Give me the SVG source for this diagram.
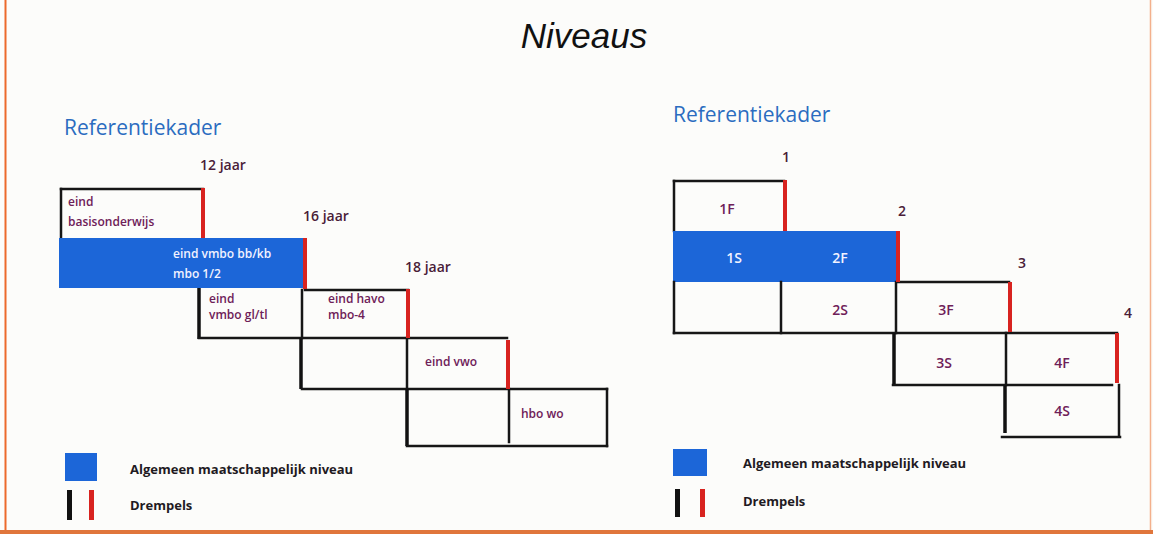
<svg xmlns="http://www.w3.org/2000/svg" width="1153" height="534" viewBox="0 0 1153 534">
<style>
.bg{fill:#fcfcfa}
.blk{stroke:#161616;stroke-width:2.5;fill:none;stroke-linecap:square}
.thk{stroke:#111;stroke-width:3.5;fill:none}
.red{stroke:#d8231f;stroke-width:4;fill:none}
.bar{fill:#1c66d8}
.hdr{font-family:"Open Sans","Liberation Sans",sans-serif;font-size:21px;fill:#2b6cc0}
.age{font-family:"Open Sans","Liberation Sans",sans-serif;font-size:14px;font-weight:600;fill:#4a1d38}
.lbl{font-family:"Open Sans","Liberation Sans",sans-serif;font-size:12px;font-weight:600;fill:#6e2058}
.wl{font-family:"Open Sans","Liberation Sans",sans-serif;font-size:12px;font-weight:600;fill:#f2f2ff}
.big{font-size:14px}
.lg{font-family:"Open Sans","Liberation Sans",sans-serif;font-size:13px;font-weight:700;fill:#1f1a22}
.mid{text-anchor:middle}
</style>
<rect class="bg" x="0" y="0" width="1153" height="534"/>
<line x1="5.5" y1="0" x2="5.5" y2="534" stroke="#ec6a2c" stroke-width="2"/>
<line x1="1150.5" y1="0" x2="1150.5" y2="534" stroke="#f3b08c" stroke-width="1.5"/>
<rect x="0" y="530" width="1153" height="4" fill="#e0763c"/>
<text x="584" y="48" text-anchor="middle" font-family="Liberation Sans, sans-serif" font-style="italic" font-size="35" fill="#111">Niveaus</text>

<g id="left-diagram">
  <text class="hdr" x="64" y="135">Referentiekader</text>
  <g id="l-age12"><text class="age" x="200" y="170">12 jaar</text></g>
  <g id="l-age16"><text class="age" x="303" y="221">16 jaar</text></g>
  <g id="l-age18"><text class="age" x="405" y="272">18 jaar</text></g>
  <g id="l-basis">
    <line class="blk" x1="61" y1="189" x2="203" y2="189"/>
    <line class="blk" x1="61" y1="189" x2="61" y2="238"/>
    <text class="lbl" x="68" y="206">eind</text>
    <text class="lbl" x="68" y="226">basisonderwijs</text>
  </g>
  <g id="l-vmbo-bbkb">
    <rect class="bar" x="59" y="238" width="246" height="50"/>
    <text class="wl" x="173" y="258">eind vmbo bb/kb</text>
    <text class="wl" x="173" y="278">mbo 1/2</text>
  </g>
  <g id="l-vmbo-gltl">
    <line class="thk" x1="199" y1="288" x2="199" y2="339"/>
    <text class="lbl" x="209" y="303">eind</text>
    <text class="lbl" x="209" y="319">vmbo gl/tl</text>
  </g>
  <g id="l-havo">
    <line class="blk" x1="305" y1="290" x2="408" y2="290"/>
    <line class="blk" x1="302" y1="290" x2="302" y2="338"/>
    <text class="lbl" x="328" y="303">eind havo</text>
    <text class="lbl" x="328" y="319">mbo-4</text>
  </g>
  <g id="l-vwo">
    <line class="blk" x1="199" y1="338" x2="507" y2="338"/>
    <line class="thk" x1="301" y1="338" x2="301" y2="389"/>
    <line class="blk" x1="407" y1="338" x2="407" y2="389"/>
    <text class="lbl" x="425" y="366">eind vwo</text>
  </g>
  <g id="l-hbowo">
    <line class="blk" x1="302" y1="389" x2="607" y2="389"/>
    <line class="thk" x1="407" y1="389" x2="407" y2="446"/>
    <line class="blk" x1="509" y1="389" x2="509" y2="442"/>
    <line class="blk" x1="607" y1="389" x2="607" y2="446"/>
    <line class="blk" x1="407" y1="446" x2="607" y2="446"/>
    <text class="lbl" x="521" y="418">hbo wo</text>
  </g>
  <g id="l-thresholds">
    <line class="red" x1="203" y1="188" x2="203" y2="238"/>
    <line class="red" x1="305" y1="238" x2="305" y2="289"/>
    <line class="red" x1="408" y1="289" x2="408" y2="338"/>
    <line class="red" x1="508" y1="340" x2="508" y2="389"/>
  </g>
  <g id="l-legend">
    <rect class="bar" x="65" y="453" width="32" height="28"/>
    <text class="lg" x="130" y="474">Algemeen maatschappelijk niveau</text>
    <rect x="67" y="490" width="5" height="30" fill="#111"/>
    <rect x="89" y="490" width="5" height="30" fill="#d8231f"/>
    <text class="lg" x="130" y="510">Drempels</text>
  </g>
</g>

<g id="right-diagram">
  <text class="hdr" x="673" y="122">Referentiekader</text>
  <g id="r-n1"><text class="age" x="782" y="162">1</text></g>
  <g id="r-n2"><text class="age" x="898" y="216">2</text></g>
  <g id="r-n3"><text class="age" x="1018" y="268">3</text></g>
  <g id="r-n4"><text class="age" x="1124" y="318">4</text></g>
  <g id="r-1F">
    <line class="blk" x1="674" y1="181" x2="784" y2="181"/>
    <line class="blk" x1="674" y1="181" x2="674" y2="231"/>
    <text class="lbl big mid" x="727" y="214">1F</text>
  </g>
  <g id="r-1S-2F">
    <rect class="bar" x="673" y="231" width="225" height="51"/>
    <text class="wl big mid" x="734" y="263">1S</text>
    <text class="wl big mid" x="840" y="263">2F</text>
  </g>
  <g id="r-row3">
    <line class="blk" x1="674" y1="282" x2="674" y2="333"/>
    <line class="blk" x1="781" y1="282" x2="781" y2="333"/>
    <line class="blk" x1="896" y1="282" x2="896" y2="333"/>
    <line class="blk" x1="898" y1="282" x2="1009" y2="282"/>
    <line class="blk" x1="674" y1="333" x2="1117" y2="333"/>
    <text class="lbl big mid" x="840" y="315">2S</text>
    <text class="lbl big mid" x="946" y="315">3F</text>
  </g>
  <g id="r-row4">
    <line class="thk" x1="894" y1="333" x2="894" y2="385"/>
    <line class="blk" x1="893" y1="385" x2="1112" y2="385"/>
    <line class="blk" x1="1006" y1="333" x2="1006" y2="385"/>
    <text class="lbl big mid" x="944" y="368">3S</text>
    <text class="lbl big mid" x="1062" y="368">4F</text>
  </g>
  <g id="r-row5">
    <line class="thk" x1="1005" y1="385" x2="1005" y2="433"/>
    <line class="blk" x1="1119" y1="385" x2="1119" y2="435"/>
    <line class="blk" x1="1002" y1="437" x2="1120" y2="437"/>
    <text class="lbl big mid" x="1062" y="416">4S</text>
  </g>
  <g id="r-thresholds">
    <line class="red" x1="785" y1="180" x2="785" y2="231"/>
    <line class="red" x1="898" y1="231" x2="898" y2="282"/>
    <line class="red" x1="1010" y1="282" x2="1010" y2="332"/>
    <line class="red" x1="1117" y1="333" x2="1117" y2="383"/>
  </g>
  <g id="r-legend">
    <rect class="bar" x="673" y="449" width="34" height="27"/>
    <text class="lg" x="743" y="468">Algemeen maatschappelijk niveau</text>
    <rect x="675" y="489" width="5" height="28" fill="#111"/>
    <rect x="700" y="489" width="5" height="28" fill="#d8231f"/>
    <text class="lg" x="743" y="506">Drempels</text>
  </g>
</g>
</svg>
